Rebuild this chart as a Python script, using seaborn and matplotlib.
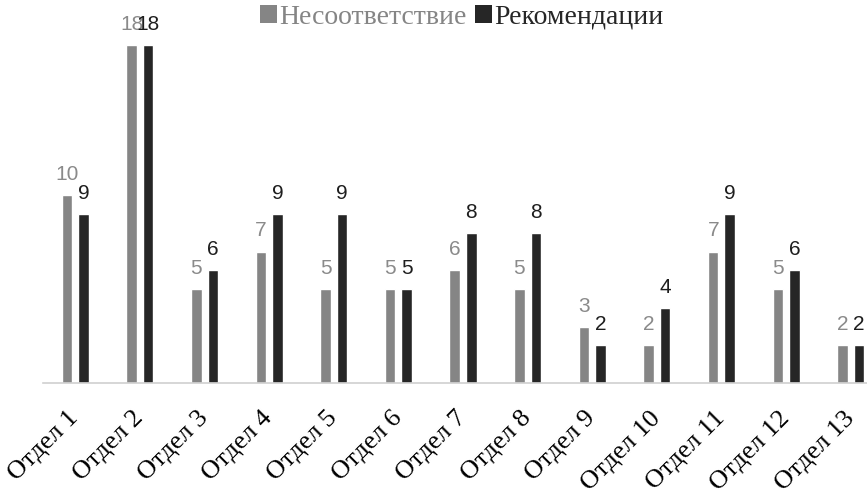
import matplotlib
matplotlib.use("Agg")
import matplotlib.pyplot as plt
from matplotlib.patches import Patch
import seaborn as sns
import pandas as pd

departments = [f"Отдел {i}" for i in range(1, 14)]
nonconformity = [10, 18, 5, 7, 5, 5, 6, 5, 3, 2, 7, 5, 2]
recommendations = [9, 18, 6, 9, 9, 5, 8, 8, 2, 4, 9, 6, 2]
series_names = ["Несоответствие", "Рекомендации"]
series_colors = ["#858585", "#262626"]

df = pd.DataFrame({
    "Отдел": departments * 2,
    "Серия": [series_names[0]] * len(departments) + [series_names[1]] * len(departments),
    "Значение": nonconformity + recommendations,
})

sns.set_theme(style="white")
plt.rcParams["font.family"] = ["Liberation Serif", "DejaVu Serif"]

W, H = 867, 490
fig = plt.figure(figsize=(W / 100, H / 100), dpi=100)
ax = fig.add_axes([43 / W, (H - 383) / H, 840 / W, 383 / H])

sns.barplot(data=df, x="Отдел", y="Значение", hue="Серия", order=departments,
            hue_order=series_names, palette=series_colors, width=0.51, gap=0.36,
            saturation=1, legend=False, ax=ax)

ax.set_ylim(0, 20.4)
ax.set_xlim(-0.5, len(departments) - 0.5)

# value labels above each bar
for cont, color in zip(ax.containers, ["#8a8a8a", "#1e1e1e"]):
    ax.bar_label(cont, padding=8, fontsize=15, color=color,
                 family=["Liberation Sans", "DejaVu Sans"])

for s in ["top", "right", "left"]:
    ax.spines[s].set_visible(False)
ax.spines["bottom"].set_color("#d0d0d0")
ax.spines["bottom"].set_linewidth(1.2)
ax.set_yticks([])
ax.set_ylabel("")
ax.set_xlabel("")

ax.set_xticks(range(len(departments)))
ax.set_xticklabels(departments, rotation=45, ha="right", va="center",
                   rotation_mode="anchor", fontsize=19, color="black")
ax.tick_params(axis="x", which="major", length=0, pad=23)
ax.set_xticks([i - 0.5 for i in range(len(departments) + 1)], minor=True)
ax.tick_params(axis="x", which="minor", length=7, color="#d0d0d0", width=1.2)

handles = [Patch(facecolor=c, edgecolor="none") for c in series_colors]
leg = fig.legend(handles, series_names, loc="center", bbox_to_anchor=(462 / W, 1 - 17 / H),
                 ncol=2, frameon=False, fontsize=20, handlelength=0.6, handleheight=0.6,
                 handletextpad=0.1, columnspacing=0.3)
for t, c in zip(leg.get_texts(), ["#858585", "#262626"]):
    t.set_color(c)

fig.savefig("out.png", dpi=100)
